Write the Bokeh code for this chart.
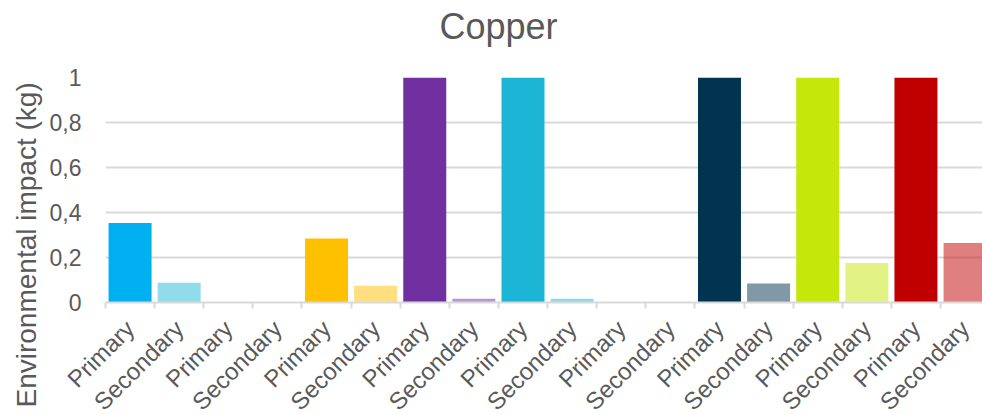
import math

from bokeh.embed import file_html
from bokeh.models import (ColumnDataSource, CustomJSTickFormatter, FixedTicker,
                          Range1d, Title)
from bokeh.plotting import figure
from bokeh.resources import INLINE

# Bar labels along the x axis: nine pairs of primary / secondary copper
labels = ["Primary", "Secondary"] * 9

# Environmental impact (kg) per bar, in the same order as the labels
values = [
    0.353, 0.088,
    0.0, 0.0,
    0.284, 0.074,
    1.0, 0.017,
    1.0, 0.017,
    0.0, 0.0,
    1.0, 0.084,
    1.0, 0.176,
    1.0, 0.265,
]

# One colour per pair; the secondary bar uses a similar hue, half transparent
pair_colors = ["#00B0F0", "#0070C0", "#FFC000", "#7030A0", "#1CB5D6",
               "#7F7F7F", "#00344F", "#C5E80A", "#C00000"]
secondary_colors = ["#23B9D5", "#0070C0", "#FFC000", "#7030A0", "#1CB5D6",
                    "#7F7F7F", "#00344F", "#C5E80A", "#C00000"]

y_ticks = [0, 0.2, 0.4, 0.6, 0.8, 1]

FONT = "Liberation Sans"
TEXT = "#595959"
GRID = "#D9D9D9"

centers = [i + 0.5 for i in range(len(labels))]
bounds = [float(i) for i in range(len(labels) + 1)]
colors = []
alphas = []
for k in range(len(pair_colors)):
    colors += [pair_colors[k], secondary_colors[k]]
    alphas += [1.0, 0.5]

source = ColumnDataSource(dict(x=centers, top=values, color=colors, alpha=alphas))

p = figure(width=982, height=427, output_backend="svg", toolbar_location=None,
           x_range=Range1d(0, 17.855), y_range=Range1d(0, 1),
           min_border_left=105, min_border_right=0,
           min_border_top=77, min_border_bottom=125)
p.outline_line_color = None
p.background_fill_color = "white"
p.border_fill_color = "white"

# blank band between the plot frame and the main title
p.add_layout(Title(text=" ", text_font_size="12px", standoff=12), "above")

p.title.text = "Copper"
p.title.text_font = FONT
p.title.text_font_size = "36px"
p.title.text_font_style = "normal"
p.title.text_color = TEXT
p.title.align = "left"
p.title.offset = 334
p.title.standoff = 6

p.add_layout(Title(text="Environmental impact (kg)", align="left", offset=-105,
                   text_font=FONT, text_font_size="28px", text_font_style="normal",
                   text_color=TEXT, standoff=10), "left")

p.vbar(x="x", top="top", bottom=0, width=0.875, source=source,
       fill_color="color", fill_alpha="alpha", line_color=None)

# x axis: ticks between bars, labels under each bar
xa = p.xaxis[0]
xa.ticker = FixedTicker(ticks=centers, minor_ticks=bounds)
xa.formatter = CustomJSTickFormatter(args=dict(labels=labels),
                                     code="return labels[Math.floor(tick)];")
xa.major_tick_line_color = None
xa.minor_tick_line_color = GRID
xa.minor_tick_line_width = 2
xa.minor_tick_in = 0
xa.minor_tick_out = 6
xa.axis_line_color = GRID
xa.axis_line_width = 2
xa.major_label_orientation = math.pi / 4
xa.major_label_text_font = FONT
xa.major_label_text_font_size = "24px"
xa.major_label_text_color = TEXT
xa.major_label_standoff = 16

# y axis: comma decimal separator
ya = p.yaxis[0]
ya.ticker = FixedTicker(ticks=y_ticks)
ya.formatter = CustomJSTickFormatter(
    code="return (Math.round(tick * 10) / 10).toString().replace('.', ',');")
ya.axis_line_color = None
ya.major_tick_line_color = None
ya.minor_tick_line_color = None
ya.major_label_text_font = FONT
ya.major_label_text_font_size = "23px"
ya.major_label_text_color = TEXT
ya.major_label_standoff = 18

p.xgrid.visible = False
p.ygrid.grid_line_color = GRID
p.ygrid.grid_line_width = 2

open("out.html", "w").write(file_html(p, INLINE))
